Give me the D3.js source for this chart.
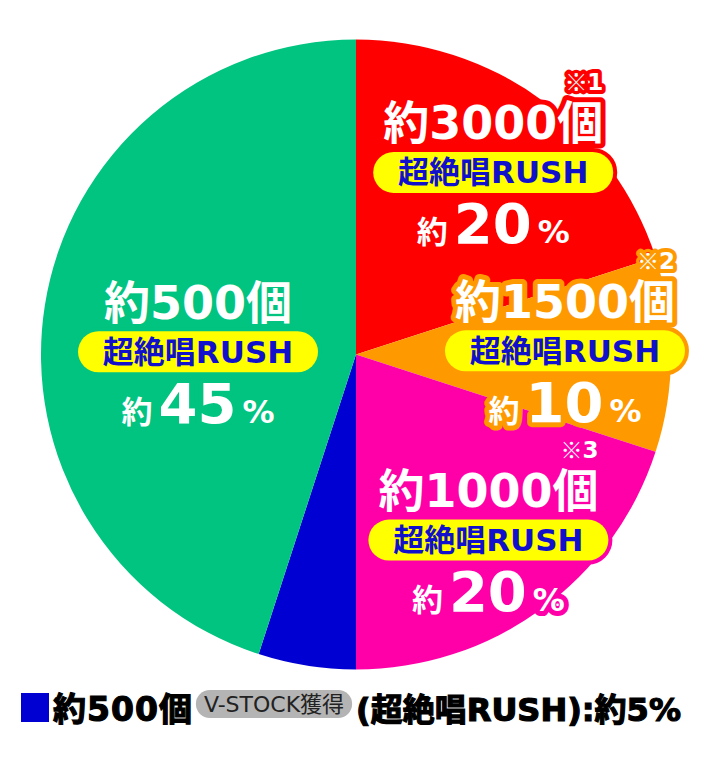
<!DOCTYPE html>
<html>
<head>
  <meta charset="UTF-8">
  <style>
    body { margin: 0; background: #fff; }
    text { font-family: "DejaVu Sans", "Noto Sans CJK JP", sans-serif; font-weight: bold; }
    .halo { paint-order: stroke; stroke-linejoin: round; }
  </style>
</head>
<body>
<script src="https://d3js.org/d3.v7.min.js"></script>
<script>

// chart data
const shares = [20, 10, 20, 5, 45];
const counts = ["約3000個", "約1500個", "約1000個", "約500個", "約500個"];
const notes = ["※1", "※2", "※3", "", ""];
const sliceColors = ["#ff0000", "#ff9900", "#ff00a8", "#0000d2", "#00c47f"];
const modeLabel = "超絶唱RUSH";
const stockLabel = "V-STOCK獲得";
const legendSlice = 3;   // the small blue slice is explained under the pie

// label placement: [radius, angle in degrees from 12 o'clock]
const labelPolar = [[228, 37], [209, 89], [228, 144.5], null, [158, 271]];

let width = 712, height = 762;
let cx = 356, cy = 354.5, R = 315;

let svg = d3.select("body").append("svg")
    .attr("width", width)
    .attr("height", height);

let arcs = d3.pie().sort(null).value(d => d)(shares);
let arc = d3.arc().innerRadius(0).outerRadius(R);

let pieG = svg.append("g").attr("transform", `translate(${cx},${cy})`);

pieG.selectAll("path")
    .data(arcs)
    .join("path")
    .attr("d", arc)
    .attr("fill", (d, i) => sliceColors[i]);

// slice labels
let labelData = arcs.map((a, i) => ({ i: i, a: a, pos: labelPolar[i] })).filter(d => d.pos);

let labels = pieG.selectAll("g.label")
    .data(labelData)
    .join("g")
    .attr("class", "label")
    .attr("transform", d => {
        let r = d.pos[0], ang = d.pos[1] * Math.PI / 180;
        return `translate(${r * Math.sin(ang)},${-r * Math.cos(ang)})`;
    });

labels.each(function(d) {
    let g = d3.select(this);
    let col = sliceColors[d.i];

    let count = g.append("text")
        .attr("class", "halo")
        .attr("y", -33)
        .attr("text-anchor", "middle")
        .attr("font-size", 46)
        .attr("fill", "#fff")
        .attr("stroke", col)
        .attr("stroke-width", 10)
        .text(counts[d.i]);

    if (notes[d.i]) {
        let half = count.node().getComputedTextLength() / 2;
        let note = g.append("text")
            .attr("class", "halo")
            .attr("x", half)
            .attr("y", -82)
            .attr("text-anchor", "end")
            .attr("fill", "#fff")
            .attr("stroke", col)
            .attr("stroke-width", 8);
        note.append("tspan").attr("font-size", 22)
            .style("font-family", '"Noto Sans CJK JP"')
            .text(notes[d.i].slice(0, 1));
        note.append("tspan").attr("font-size", 23).text(notes[d.i].slice(1));
    }

    g.append("rect")
        .attr("x", -120).attr("y", -20.5)
        .attr("width", 240).attr("height", 41)
        .attr("rx", 20.5)
        .attr("fill", "#ffff00")
        .attr("stroke", col)
        .attr("stroke-width", 8)
        .attr("paint-order", "stroke");

    g.append("text")
        .attr("y", 11)
        .attr("text-anchor", "middle")
        .attr("font-size", 31)
        .attr("fill", "#1111cc")
        .text(modeLabel);

    let pct = g.append("text")
        .attr("class", "halo")
        .attr("y", 71)
        .attr("text-anchor", "middle")
        .attr("fill", "#fff")
        .attr("stroke", col)
        .attr("stroke-width", 10);
    pct.append("tspan").attr("font-size", 31).text("約");
    pct.append("tspan").attr("font-size", 56).attr("dx", 6).text(shares[d.i]);
    pct.append("tspan").attr("font-size", 32).attr("dx", 6).text("%");
});

// legend for the small slice
let legend = svg.append("g").attr("transform", "translate(0,721)");

legend.append("rect")
    .attr("x", 21).attr("y", -28)
    .attr("width", 28).attr("height", 29)
    .attr("fill", sliceColors[legendSlice]);

let t1 = legend.append("text")
    .attr("x", 53)
    .attr("font-size", 33)
    .attr("letter-spacing", 1)
    .attr("fill", "#000")
    .attr("stroke", "#000")
    .attr("stroke-width", 1.2)
    .text(counts[legendSlice]);

let x = 53 + t1.node().getComputedTextLength() + 3;

let stock = legend.append("text")
    .attr("x", x + 8)
    .attr("y", -9)
    .attr("font-size", 22)
    .style("font-weight", "normal")
    .attr("fill", "#222")
    .text(stockLabel);
let sw = stock.node().getComputedTextLength() + 16;
legend.insert("rect", "text:last-child")
    .attr("x", x).attr("y", -31)
    .attr("width", sw).attr("height", 28)
    .attr("rx", 14)
    .attr("fill", "#b4b4b4");

x += sw + 4;

legend.append("text")
    .attr("x", x)
    .attr("font-size", 32)
    .attr("fill", "#000")
    .attr("stroke", "#000")
    .attr("stroke-width", 1.2)
    .text("(" + modeLabel + "):約" + shares[legendSlice] + "%");

</script>
</body>
</html>
